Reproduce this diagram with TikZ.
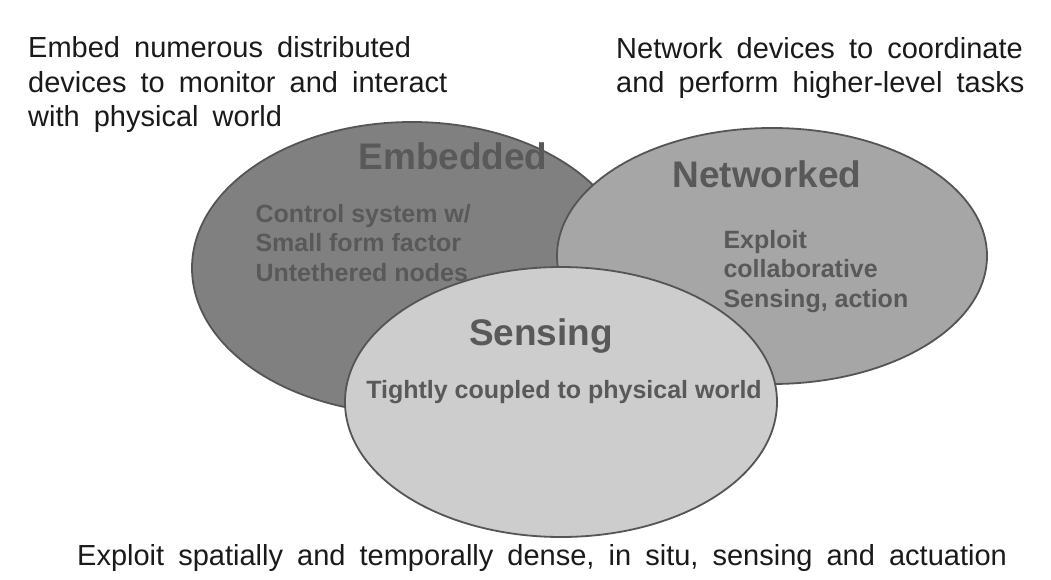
\documentclass[tikz,border=0pt]{standalone}
\usepackage{fontspec}
\setmainfont{Liberation Sans}
\newfontfamily\remarkfont[WordSpace=1.75]{Liberation Sans}
\usepackage{xcolor}
\usetikzlibrary{positioning, shapes.geometric}

\definecolor{embfill}{HTML}{808080}
\definecolor{netfill}{HTML}{A6A6A6}
\definecolor{sensfill}{HTML}{CDCDCD}
\definecolor{rimgray}{HTML}{555555}
\definecolor{inkgray}{HTML}{595959}
\definecolor{plainink}{HTML}{1A1A1A}

\begin{document}
\begin{tikzpicture}[
        x=1pt, y=-1pt,
        field/.style={ellipse, draw=rimgray, line width=1.8pt, inner sep=0pt},
        title/.style={anchor=base, text=inkgray, font=\fontsize{37}{40}\selectfont\bfseries},
        detail/.style={anchor=base west, align=left, text=inkgray, font=\fontsize{25}{29.5}\selectfont\bfseries},
        remark/.style={anchor=base west, align=left, text=plainink, inner sep=0pt, font=\remarkfont\fontsize{29}{34.5}\selectfont},
    ]
    \useasboundingbox[fill=white] (0,0) rectangle (1051,580);

    % === THREE OVERLAPPING FIELDS ===
    \node[field, fill=embfill, minimum width=440pt, minimum height=292pt] (emb) at (412,268) {};
    \node[field, fill=netfill, minimum width=430pt, minimum height=256pt] (net) at (772,256) {};
    \node[field, fill=sensfill, minimum width=432pt, minimum height=270pt] (sens) at (561,402) {};

    % Titles
    \node[title] (embtitle) at (453,170) {Embedded};
    \node[title] (nettitle) at (767,188) {Networked};
    \node[title] (senstitle) at (541,345) {Sensing};

    % Inner notes (base = last line)
    \node[detail] (embnote) at (252,281) {Control system w/\\Small form factor\\Untethered nodes};
    \node[detail] (netnote) at (720,307) {Exploit\\collaborative\\Sensing, action};
    \node[detail, anchor=base] (sensnote) at (564,398) {Tightly coupled to physical world};

    % === OUTER REMARKS ===
    \node[remark] (embremark) at (28,127) {Embed numerous distributed\\devices to monitor and interact\\with physical world};
    \node[remark] (netremark) at (616,93) {Network devices to coordinate\\and perform higher-level tasks};
    \node[remark] (sensremark) at (77,565) {Exploit spatially and temporally dense, in situ, sensing and actuation};

\end{tikzpicture}
\end{document}
